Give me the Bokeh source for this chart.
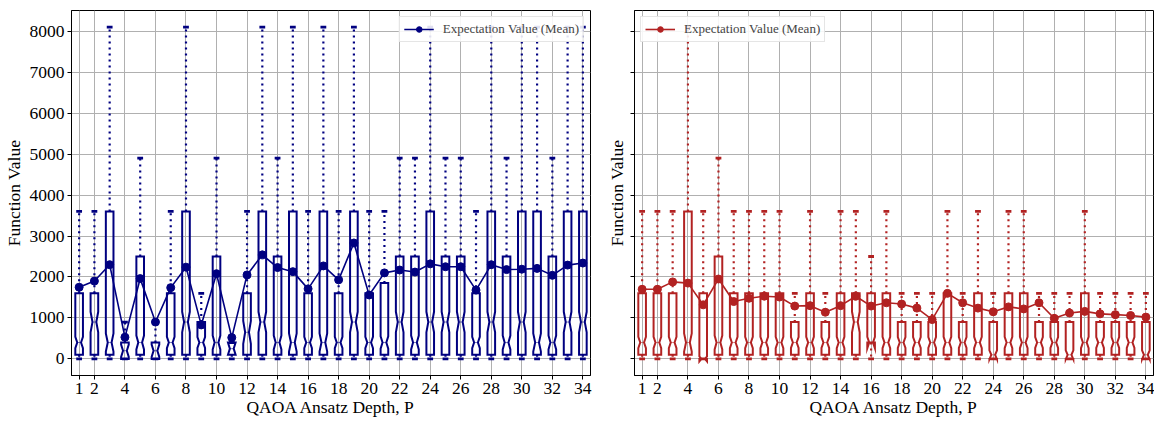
from bokeh.plotting import figure
from bokeh.layouts import row
from bokeh.models import FixedTicker, Legend, LegendItem, Range1d, ColumnDataSource
from bokeh.embed import file_html
from bokeh.resources import INLINE

depth = list(range(1, 35))
x_ticks = [1] + list(range(2, 35, 2))
y_ticks = list(range(0, 8001, 1000))
x_label = "QAOA Ansatz Depth, P"
y_label = "Function Value"
legend_label = "Expectation Value (Mean)"

# ---- left panel (navy) ----
left_q1 = [100, 100, 100, 0, 100, 0, 100, 100, 100, 100, 100, 100, 100, 100, 100, 100, 100,
           100, 100, 100, 100, 100, 100, 100, 100, 100, 100, 100, 100, 100, 100, 100, 100, 100]
left_med = [400, 900, 400, 200, 400, 200, 400, 900, 400, 400, 250, 650, 900, 400, 400, 400, 400,
            400, 900, 400, 400, 900, 400, 900, 900, 900, 400, 900, 400, 900, 400, 400, 900, 900]
left_q3 = [1600, 1600, 3600, 400, 2500, 400, 1600, 3600, 900, 2500, 400, 1600, 3600, 2500, 3600, 1600, 3600,
           1600, 3600, 1600, 1850, 2500, 2500, 3600, 2500, 2500, 1600, 3600, 2500, 3600, 3600, 2500, 3600, 3600]
left_wlo = [0] * 34
left_whi = [3600, 3600, 8100, 900, 4900, 900, 3600, 8100, 1600, 4900, 400, 3600, 8100, 4900, 8100, 3600, 8100,
            3600, 8100, 3600, 3600, 4900, 4900, 8100, 4900, 4900, 3600, 8100, 4900, 8100, 8100, 4900, 8100, 8100]
left_mean = [1750, 1900, 2300, 530, 1960, 900, 1740, 2240, 830, 2080, 520, 2050, 2540, 2230, 2130, 1710, 2270,
             1930, 2830, 1560, 2100, 2170, 2120, 2320, 2250, 2250, 1680, 2300, 2180, 2190, 2210, 2040, 2290, 2340]
left_notch = [140, 250, 220, 150, 170, 150, 140, 250, 130, 170, 150, 280, 250, 170, 220, 140, 220,
              140, 250, 140, 150, 250, 170, 250, 250, 250, 140, 250, 170, 250, 220, 170, 250, 250]

# ---- right panel (firebrick) ----
right_q1 = [100, 100, 100, 100, 0, 100, 100, 100, 100, 100, 100, 100, 100, 100, 100, 400, 100,
            100, 100, 100, 100, 100, 100, 0, 100, 100, 100, 100, 0, 100, 100, 100, 100, 0]
right_med = [400, 400, 400, 400, 0, 400, 400, 400, 400, 400, 400, 400, 400, 400, 900, 400, 400,
             400, 400, 400, 400, 400, 400, 100, 400, 400, 400, 400, 100, 400, 400, 400, 400, 100]
right_q3 = [1600, 1600, 1600, 3600, 1600, 2500, 1600, 1600, 1600, 1600, 900, 1600, 900, 1600, 1600, 1600, 1600,
            900, 900, 900, 1600, 900, 1600, 900, 1600, 1600, 900, 900, 900, 1600, 900, 900, 900, 900]
right_wlo = [0] * 34
right_whi = [3600, 3600, 3600, 8100, 3600, 4900, 3600, 3600, 3600, 3600, 1600, 3600, 1600, 3600, 3600, 2500, 3600,
             1600, 1600, 1600, 3600, 1600, 3600, 1600, 3600, 3600, 1600, 1600, 1600, 3600, 1600, 1600, 1600, 1600]
right_mean = [1700, 1700, 1880, 1850, 1320, 1950, 1400, 1480, 1530, 1510, 1290, 1300, 1140, 1300, 1530, 1290, 1370,
              1340, 1240, 960, 1600, 1370, 1240, 1150, 1270, 1220, 1370, 990, 1120, 1160, 1100, 1080, 1060, 1020]
right_notch = [140, 140, 140, 220, 60, 170, 140, 140, 140, 140, 130, 140, 130, 140, 250, 140, 140,
               130, 130, 130, 140, 130, 140, 110, 140, 140, 130, 130, 110, 140, 130, 130, 130, 110]

FONT = "Liberation Serif"
AX_FONT_SIZE = "17.5px"
BOX_HALF = 0.25
NOTCH_HALF_W = 0.125
CAP_HALF = 0.19


def make_panel(q1, med, q3, wlo, whi, mean, notch, color, width, border_left, border_right,
               show_ylabels, legend_loc):
    p = figure(width=width, height=422, x_range=Range1d(0.5, 34.5), y_range=Range1d(-405, 8505),
               output_backend="svg", toolbar_location=None,
               min_border_left=border_left, min_border_right=border_right,
               min_border_top=10, min_border_bottom=47)
    p.background_fill_color = "white"
    p.border_fill_color = "white"
    p.outline_line_color = "black"
    p.outline_line_width = 1

    # boxes (notched, matplotlib style outline)
    xs, ys = [], []
    for x, a, m, b, n in zip(depth, q1, med, q3, notch):
        xs.append([x - BOX_HALF, x - BOX_HALF, x - NOTCH_HALF_W, x - BOX_HALF, x - BOX_HALF,
                   x + BOX_HALF, x + BOX_HALF, x + NOTCH_HALF_W, x + BOX_HALF, x + BOX_HALF])
        ys.append([a, m - n, m, m + n, b, b, m + n, m, m - n, a])
    p.patches(xs, ys, fill_alpha=0, line_color=color, line_width=2, line_join="miter")

    # median lines
    p.segment(x0=[x - NOTCH_HALF_W for x in depth], y0=med, x1=[x + NOTCH_HALF_W for x in depth], y1=med,
              line_color=color, line_width=1, line_alpha=0.5)

    # whiskers
    p.segment(x0=depth, y0=q3, x1=depth, y1=whi, line_color=color, line_width=2.2, line_dash="2 4")
    p.segment(x0=depth, y0=q1, x1=depth, y1=wlo, line_color=color, line_width=2.2, line_dash="2 4")
    # caps
    p.segment(x0=[x - CAP_HALF for x in depth], y0=whi, x1=[x + CAP_HALF for x in depth], y1=whi,
              line_color=color, line_width=2.8)
    p.segment(x0=[x - CAP_HALF for x in depth], y0=wlo, x1=[x + CAP_HALF for x in depth], y1=wlo,
              line_color=color, line_width=2.8)

    # mean line
    src = ColumnDataSource(dict(x=depth, y=mean))
    ln = p.line("x", "y", source=src, line_color=color, line_width=1.6)
    sc = p.scatter("x", "y", source=src, size=8, fill_color=color, line_color=color)

    legend = Legend(items=[LegendItem(label=legend_label, renderers=[ln, sc])], location=legend_loc)
    legend.label_text_font = FONT
    legend.label_text_font_size = "13px"
    legend.border_line_color = "#cccccc"
    legend.border_line_width = 1
    legend.background_fill_alpha = 0.88
    legend.margin = 6
    legend.padding = 4
    legend.spacing = 0
    legend.glyph_width = 30
    legend.glyph_height = 14
    legend.label_height = 14
    legend.label_standoff = 9
    p.add_layout(legend)

    p.xaxis.ticker = FixedTicker(ticks=x_ticks)
    p.yaxis.ticker = FixedTicker(ticks=y_ticks)
    p.xaxis.axis_label = x_label
    p.yaxis.axis_label = y_label
    for ax in (p.xaxis, p.yaxis):
        ax.axis_label_text_font = FONT
        ax.axis_label_text_font_size = AX_FONT_SIZE
        ax.axis_label_text_font_style = "normal"
        ax.axis_label_text_color = "black"
        ax.major_label_text_font = FONT
        ax.major_label_text_font_size = AX_FONT_SIZE
        ax.major_label_text_color = "black"
        ax.minor_tick_line_color = None
        ax.major_tick_out = 4
        ax.major_tick_in = 0
        ax.major_tick_line_color = "black"
        ax.axis_line_color = "black"
        ax.major_label_standoff = 3
    p.xaxis.axis_label_standoff = 0
    p.yaxis.axis_label_standoff = 3
    if not show_ylabels:
        p.yaxis.major_label_overrides = {t: "" for t in y_ticks}
        p.yaxis.major_label_standoff = 0
        p.yaxis.axis_label_standoff = 4

    p.grid.grid_line_color = "#b0b0b0"
    p.grid.grid_line_width = 1
    p.xgrid.ticker = FixedTicker(ticks=x_ticks)
    p.ygrid.ticker = FixedTicker(ticks=y_ticks)
    return p


p1 = make_panel(left_q1, left_med, left_q3, left_wlo, left_whi, left_mean, left_notch, "#000080",
                600, 69, 10, True, "top_right")
p2 = make_panel(right_q1, right_med, right_q3, right_wlo, right_whi, right_mean, right_notch, "#b22222",
                554, 34, 1, False, "top_left")

layout = row(p1, p2, spacing=0)
open("out.html", "w").write(file_html(layout, INLINE))
